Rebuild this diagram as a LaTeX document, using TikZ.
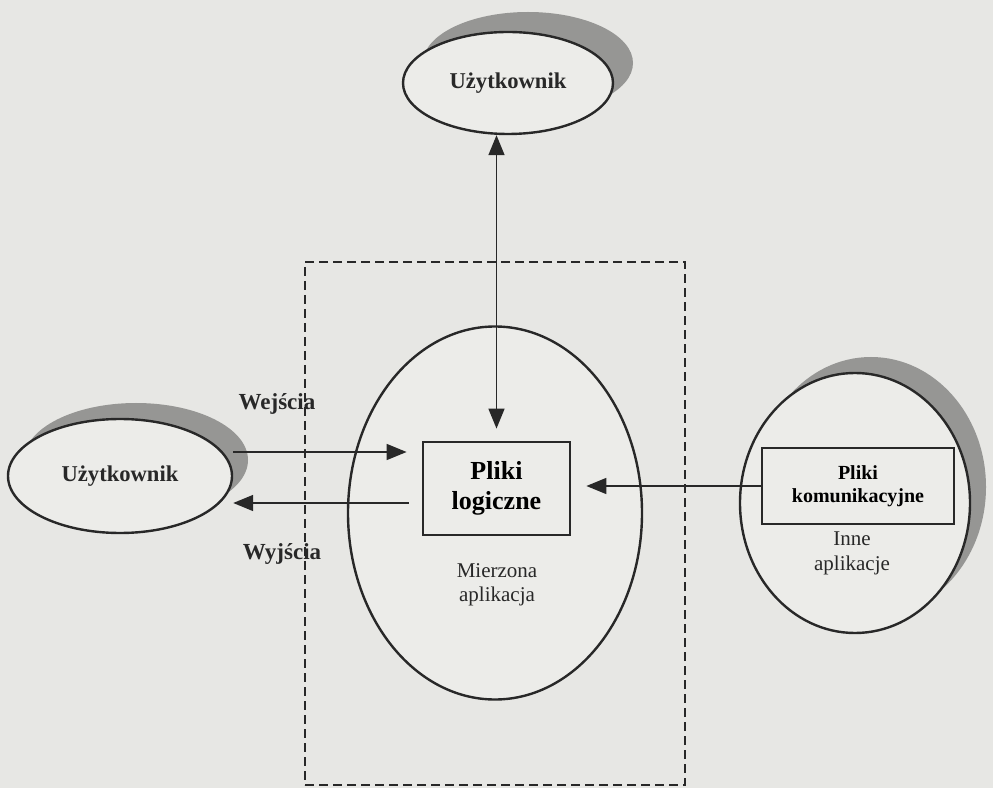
\documentclass[tikz,border=0pt]{standalone}
\usepackage{fontspec}
\setmainfont{Liberation Serif}
\usetikzlibrary{shapes.geometric,shadows,arrows.meta,calc}
\definecolor{bgcol}{RGB}{231,231,228}
\definecolor{incol}{RGB}{236,236,233}
\definecolor{shcol}{RGB}{150,150,148}
\definecolor{ink}{RGB}{40,40,40}
\tikzset{
  ell/.style={ellipse, draw=ink, line width=2.4pt, fill=incol, inner sep=0pt},
  shell/.style={ell, general shadow={fill=shcol, shadow xshift=#1, shadow yshift=#1}},
  filebox/.style={draw=ink, line width=2.8pt, fill=incol, inner sep=0pt, align=center, font=\bfseries},
  lbl/.style={text=ink, align=center},
  conn/.style={draw=ink, line width=1.6pt, -{Triangle[length=20pt,width=16pt]}},
  conn2/.style={draw=ink, line width=1.6pt, {Triangle[length=20pt,width=16pt]}-{Triangle[length=20pt,width=16pt]}},
  frame/.style={draw=ink, line width=2pt, dash pattern=on 9pt off 5pt}
}
\begin{document}
\begin{tikzpicture}[x=1pt,y=1pt]
\fill[bgcol] (0,0) rectangle (993,788);
\useasboundingbox (0,0) rectangle (993,788);
% dashed frame
\node[frame, minimum width=380pt, minimum height=523pt, inner sep=0pt] (frm) at (495,264.5) {};
% big ellipse
\node[ell, minimum width=294pt, minimum height=373pt] (app) at (495,275) {};
\node[lbl, font=\fontsize{21}{24}\selectfont] (mier) at (497,203) {Mierzona\\aplikacja};
\node[filebox, minimum width=147pt, minimum height=93pt, font=\bfseries\fontsize{26}{30}\selectfont] (pl) at (496.5,299.5) {Pliki\\logiczne};
% users
\node[shell=20pt, minimum width=210pt, minimum height=102pt, font=\bfseries\fontsize{22.6}{26}\selectfont, text=ink] (utop) at (508,705) {Użytkownik};
\node[shell=16pt, minimum width=224pt, minimum height=114pt, font=\bfseries\fontsize{22.6}{26}\selectfont, text=ink] (uleft) at (120,312) {Użytkownik};
% other applications
\node[shell=16pt, minimum width=230pt, minimum height=260pt] (inne) at (855,285) {};
\node[filebox, minimum width=192pt, minimum height=76pt, font=\bfseries\fontsize{20}{23}\selectfont] (kom) at (858,302) {Pliki\\komunikacyjne};
\node[lbl, font=\fontsize{21}{25}\selectfont] (innel) at (852,235) {Inne\\aplikacje};
% labels
\node[lbl, font=\bfseries\fontsize{23}{26}\selectfont] (wej) at (277,384) {Wejścia};
\node[lbl, font=\bfseries\fontsize{23}{26}\selectfont] (wyj) at (282,234) {Wyjścia};
% connectors
\draw[conn2] (utop.south -| pl.north) -- ([yshift=12pt]pl.north);
\draw[conn] ([yshift=24pt]uleft.east) -- ($(pl.west)+(-15,36.5)$);
\draw[conn] ($(pl.west)+(-13,-14.5)$) -- ([yshift=-27pt]uleft.east);
\draw[conn] (kom.west) -- ($(kom.west -| pl.east)+(15,0)$);
\end{tikzpicture}
\end{document}
